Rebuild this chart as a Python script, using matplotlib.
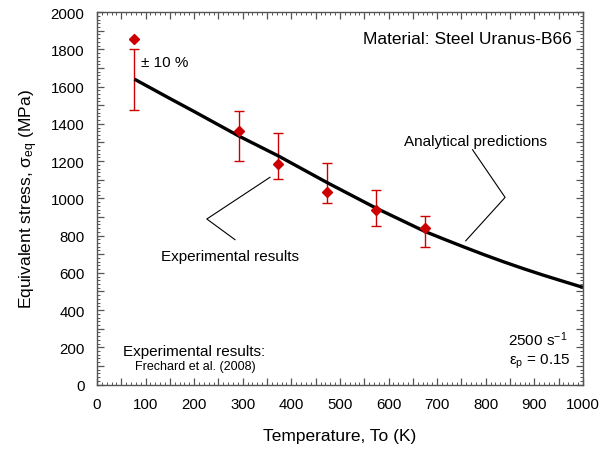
import numpy as np
import matplotlib
matplotlib.use("Agg")
import matplotlib.pyplot as plt
from matplotlib.ticker import MultipleLocator, FuncFormatter

plt.rcParams['font.family'] = ['Liberation Sans', 'DejaVu Sans']
plt.rcParams['mathtext.fontset'] = 'custom'
plt.rcParams['mathtext.rm'] = 'Liberation Sans'
plt.rcParams['mathtext.it'] = 'Liberation Sans'

# analytical prediction (black curve)
temp_line = [77, 150, 200, 293, 373, 474, 574, 675, 715, 754, 795, 836, 877, 918, 960, 1000]
stress_line = [1640, 1536, 1466, 1333, 1228, 1084, 948, 822, 780, 740, 699, 660, 623, 588, 554, 522]

# experimental results (Frechard et al. 2008)
temp_exp = [77, 293, 373, 474, 574, 675]
stress_exp = [1855, 1363, 1182, 1034, 935, 842]
# prediction at the test temperatures, error bars are +/- 10 % of it
stress_pred_exp = [1640, 1333, 1228, 1084, 948, 822]

red = "#cc0000"

fig = plt.figure(figsize=(5.99, 4.52), dpi=100)
ax = fig.add_axes([0.162, 0.147, 0.811, 0.824])

ax.plot(temp_line, stress_line, color="black", lw=2.4, solid_capstyle="butt",
        solid_joinstyle="round", zorder=3)

pred = np.array(stress_pred_exp)
ax.errorbar(temp_exp, pred, yerr=0.1 * pred, fmt="none", ecolor=red,
            elinewidth=1.0, capsize=3.5, capthick=1.0, zorder=2)
ax.plot(temp_exp, stress_exp, "D", color=red, ms=5.5, mec=red, zorder=4)

ax.set_xlim(0, 1000)
ax.set_ylim(0, 2000)

ax.xaxis.set_major_locator(MultipleLocator(50))
ax.xaxis.set_minor_locator(MultipleLocator(10))
ax.yaxis.set_major_locator(MultipleLocator(100))
ax.yaxis.set_minor_locator(MultipleLocator(20))
ax.xaxis.set_major_formatter(FuncFormatter(lambda v, p: "%d" % v if round(v) % 100 == 0 else ""))
ax.yaxis.set_major_formatter(FuncFormatter(lambda v, p: "%d" % v if round(v) % 200 == 0 else ""))

ax.tick_params(which="both", direction="in", top=True, right=True, color="#555555")
ax.tick_params(which="major", length=5, width=0.9, labelsize=10.8, pad=9)
ax.tick_params(which="minor", length=2.5, width=0.7)
for s in ax.spines.values():
    s.set_color("#555555")
    s.set_linewidth(1.0)

ax.set_xlabel("Temperature, To (K)", fontsize=12.5, labelpad=12)
ax.set_ylabel(r"Equivalent stress, $\sigma_{\rm eq}$ (MPa)", fontsize=12.5, labelpad=8)

ax.text(977, 1859, "Material: Steel Uranus-B66", fontsize=12.5, ha="right", va="center")
ax.text(90, 1733, "± 10 %", fontsize=11, ha="left", va="center")
ax.text(274, 693, "Experimental results", fontsize=11, ha="center", va="center")
ax.text(779, 1309, "Analytical predictions", fontsize=11, ha="center", va="center")
ax.text(199, 182, "Experimental results:", fontsize=11, ha="center", va="center")
ax.text(203, 101, "Frechard et al. (2008)", fontsize=9, ha="center", va="center")
ax.text(968, 244, r"2500 s$^{-1}$", fontsize=11, ha="right", va="center")
ax.text(976, 127, r"ε$_{\rm p}$ = 0.15", fontsize=11, ha="right", va="center")

# pointer lines
ax.plot([356, 226, 284], [1113, 889, 778], color="black", lw=0.8)
ax.plot([773, 840, 759], [1261, 1005, 772], color="black", lw=0.8)

fig.savefig("out.png", dpi=100)
